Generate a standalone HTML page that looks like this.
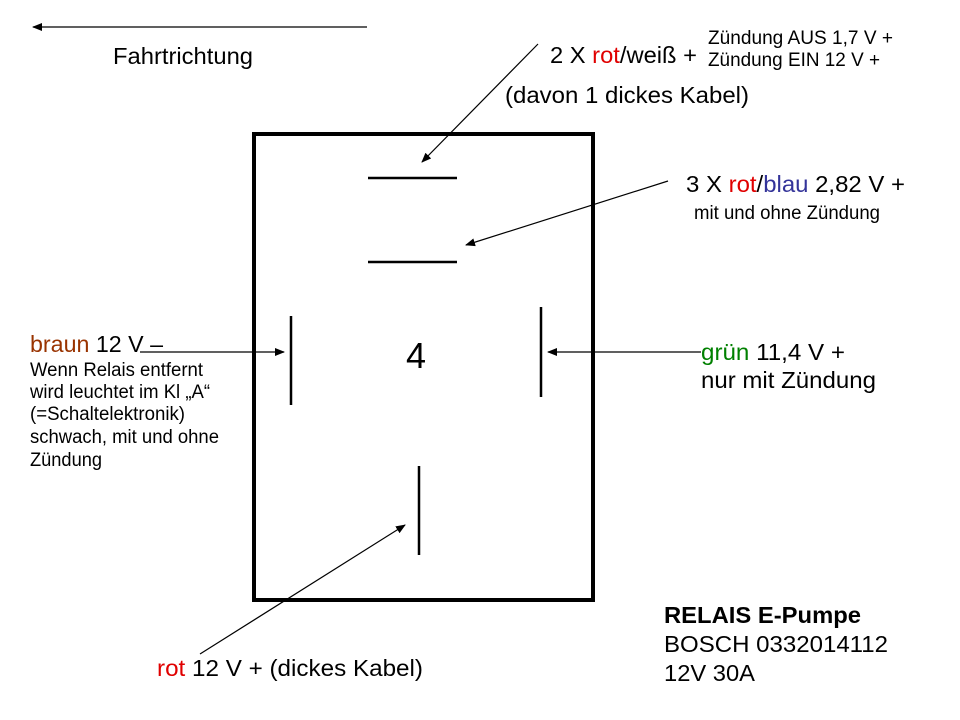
<!DOCTYPE html>
<html><head><meta charset="utf-8"><style>
html,body{margin:0;padding:0;background:#fff;width:960px;height:720px;overflow:hidden}
svg{display:block}
text{font-family:"Liberation Sans",Arial,sans-serif;fill:#000}
.r{fill:#e00000}.b{fill:#333399}.br{fill:#993300}.g{fill:#008000}
</style></head><body>
<svg width="960" height="720" viewBox="0 0 960 720" xmlns="http://www.w3.org/2000/svg">
<defs><marker id="a" markerWidth="10" markerHeight="8" refX="9" refY="4" orient="auto" markerUnits="userSpaceOnUse"><path d="M0,0 L10,4 L0,8 z" fill="#000"/></marker></defs>
<rect x="254" y="134" width="339" height="466" fill="none" stroke="#000" stroke-width="4"/>
<g stroke="#000" stroke-width="2.5">
<line x1="368" y1="178" x2="457" y2="178"/>
<line x1="368" y1="262" x2="457" y2="262"/>
<line x1="291" y1="316" x2="291" y2="405"/>
<line x1="541" y1="307" x2="541" y2="397"/>
<line x1="419" y1="466" x2="419" y2="555"/>
</g>
<g stroke="#000" stroke-width="1.2" marker-end="url(#a)">
<line x1="367" y1="27" x2="33" y2="27"/>
<line x1="538" y1="44" x2="422" y2="162"/>
<line x1="668" y1="181" x2="466" y2="245"/>
<line x1="140" y1="352" x2="284" y2="352"/>
<line x1="701" y1="352" x2="548" y2="352"/>
<line x1="200" y1="654" x2="405" y2="525"/>
</g>
<g font-size="23.5" transform="translate(0,2)">
<text x="113" y="62" textLength="140" lengthAdjust="spacingAndGlyphs">Fahrtrichtung</text>
<text x="550" y="61" textLength="147" lengthAdjust="spacingAndGlyphs">2 X <tspan class="r">rot</tspan>/weiß +</text>
<text x="505" y="101" textLength="244" lengthAdjust="spacingAndGlyphs">(davon 1 dickes Kabel)</text>
<text x="686" y="190" textLength="219" lengthAdjust="spacingAndGlyphs">3 X <tspan class="r">rot</tspan>/<tspan class="b">blau</tspan> 2,82 V +</text>
<text x="30" y="350" textLength="133" lengthAdjust="spacingAndGlyphs"><tspan class="br">braun</tspan> 12 V –</text>
<text x="701" y="358" textLength="144" lengthAdjust="spacingAndGlyphs"><tspan class="g">grün</tspan> 11,4 V +</text>
<text x="701" y="386" textLength="175" lengthAdjust="spacingAndGlyphs">nur mit Zündung</text>
<text x="157" y="674" textLength="266" lengthAdjust="spacingAndGlyphs"><tspan class="r">rot</tspan> 12 V + (dickes Kabel)</text>
<text x="664" y="621" font-weight="bold" textLength="197" lengthAdjust="spacingAndGlyphs">RELAIS E-Pumpe</text>
<text x="664" y="650" textLength="224" lengthAdjust="spacingAndGlyphs">BOSCH 0332014112</text>
<text x="664" y="679" textLength="91" lengthAdjust="spacingAndGlyphs">12V 30A</text>
</g>
<g font-size="19" transform="translate(0,2)">
<text x="708" y="42" textLength="185" lengthAdjust="spacingAndGlyphs">Zündung AUS 1,7 V +</text>
<text x="708" y="64" textLength="172" lengthAdjust="spacingAndGlyphs">Zündung EIN 12 V +</text>
<text x="694" y="217" textLength="186" lengthAdjust="spacingAndGlyphs">mit und ohne Zündung</text>
<text x="30" y="374" textLength="173" lengthAdjust="spacingAndGlyphs">Wenn Relais entfernt</text>
<text x="30" y="396" textLength="180" lengthAdjust="spacingAndGlyphs">wird leuchtet im Kl „A“</text>
<text x="30" y="418" textLength="155" lengthAdjust="spacingAndGlyphs">(=Schaltelektronik)</text>
<text x="30" y="441" textLength="189" lengthAdjust="spacingAndGlyphs">schwach, mit und ohne</text>
<text x="30" y="464" textLength="72" lengthAdjust="spacingAndGlyphs">Zündung</text>
</g>
<text x="406" y="368" font-size="36">4</text>
</svg>
</body></html>
